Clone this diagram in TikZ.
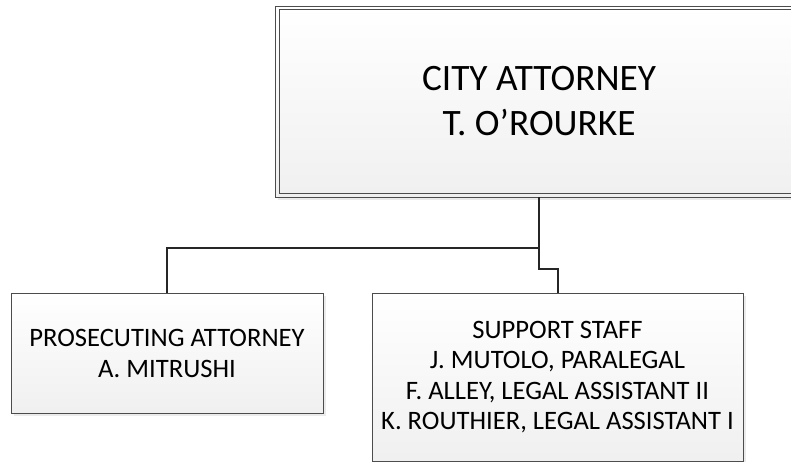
\documentclass[tikz,border=0pt]{standalone}
\usepackage{fontspec}
\setmainfont{Carlito}
\usetikzlibrary{shadows}
\tikzset{
  boxshade/.style={top color=white, bottom color=gray!12, draw=gray!60!black, line width=0.9pt,
    drop shadow={shadow xshift=3pt, shadow yshift=-3pt, fill=gray!16, opacity=1}},
  bigbox/.style={boxshade, minimum width=528pt, minimum height=191pt, align=center,
    font=\fontsize{37.3}{45}\selectfont, inner sep=0pt},
  smallbox/.style={boxshade, align=center, font=\fontsize{26.6}{31}\selectfont, inner sep=0pt},
  conn/.style={line width=2pt, draw=gray!30!black},
}
\begin{document}
\begin{tikzpicture}[x=1pt,y=-1pt]
\useasboundingbox (0,0) rectangle (791,462);
\clip (0,0) rectangle (791,462);
\node[bigbox] (ca) at (539,101.5) {CITY ATTORNEY\\T. O’ROURKE};
\draw[draw=gray!60!black, line width=0.9pt] ([shift={(5pt,-4pt)}]ca.north west) rectangle ([shift={(-5pt,4pt)}]ca.south east);
\node[smallbox, minimum width=312pt, minimum height=120pt] (pa) at (167,353) {PROSECUTING ATTORNEY\\A. MITRUSHI};
\node[smallbox, minimum width=371pt, minimum height=168pt, font=\fontsize{26.6}{30.5}\selectfont] (ss) at (557.5,377) {SUPPORT STAFF\\J. MUTOLO, PARALEGAL\\F. ALLEY, LEGAL ASSISTANT II\\K. ROUTHIER, LEGAL ASSISTANT I};
\coordinate (j) at (539,248);
\coordinate (k) at (539,269);
\draw[conn] (ca.south) -- (j) -| (pa.north);
\draw[conn] (j) -- (k) -| (ss.north);
\end{tikzpicture}
\end{document}
